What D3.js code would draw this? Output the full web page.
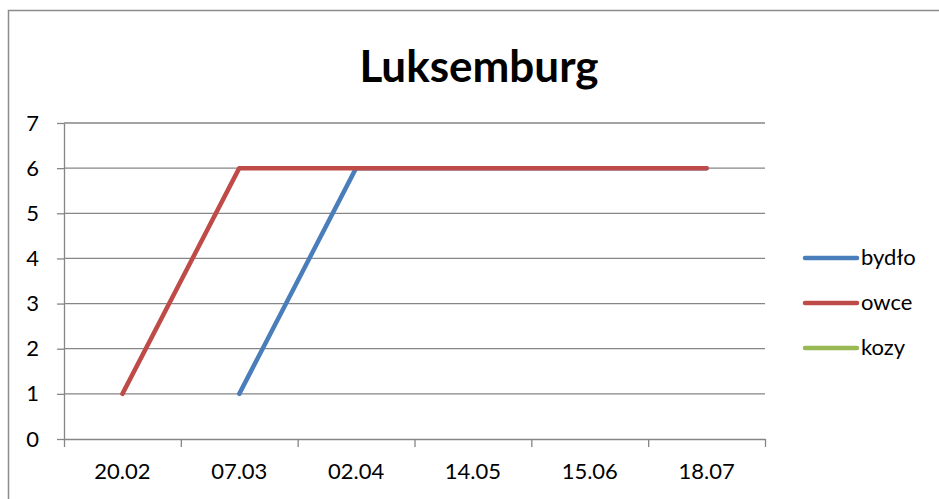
<!DOCTYPE html>
<html>
<head>
<meta charset="utf-8">
<script src="https://cdn.jsdelivr.net/npm/d3@7/dist/d3.min.js"></script>
<style>
  body { margin: 0; background: #fff; }
  svg { font-family: Lato, "Open Sans", sans-serif; }
</style>
</head>
<body>
<svg id="chart" width="939" height="499"></svg>
<script>
// data
var categories = ["20.02", "07.03", "02.04", "14.05", "15.06", "18.07"];
var bydlo = [null, 1, 6, 6, 6, 6];
var owce = [1, 6, 6, 6, 6, 6];
var kozy = [null, null, null, null, null, null];
var yTicks = [0, 1, 2, 3, 4, 5, 6, 7];

var series = [
  { name: "bydło", values: bydlo, color: "#4A7EBB" },
  { name: "owce", values: owce, color: "#BE4B48" },
  { name: "kozy", values: kozy, color: "#98B954" }
];

var svg = d3.select("#chart");
var margin = { left: 64, right: 765, top: 123, bottom: 439 };

// outer chart frame
svg.append("rect")
  .attr("x", 8.5).attr("y", 10.5)
  .attr("width", 940).attr("height", 500)
  .attr("fill", "none")
  .attr("stroke", "#8c8c8c")
  .attr("stroke-width", 1.5);

svg.append("text")
  .attr("x", 479).attr("y", 82)
  .attr("text-anchor", "middle")
  .attr("font-size", 44)
  .attr("font-weight", "bold")
  .text("Luksemburg");

var x = d3.scaleBand().domain(categories).range([margin.left, margin.right]);
var xEdge = d3.scaleLinear().domain([0, categories.length]).range([margin.left, margin.right]);
var y = d3.scaleLinear().domain([0, 7]).range([margin.bottom, margin.top]);

// gridlines
svg.append("g")
  .selectAll("line")
  .data(yTicks.slice(1))
  .enter().append("line")
  .attr("x1", margin.left).attr("x2", margin.right)
  .attr("y1", function(d) { return y(d); })
  .attr("y2", function(d) { return y(d); })
  .attr("stroke", "#868686")
  .attr("stroke-width", 1.3);

// y axis
var yAxis = svg.append("g")
  .attr("transform", "translate(" + margin.left + ",0)")
  .call(d3.axisLeft(y).tickValues(yTicks).tickFormat(d3.format("d")).tickSize(7).tickPadding(18).tickSizeOuter(0));
yAxis.selectAll("text").attr("font-size", 22).attr("fill", "#000").attr("font-family", "Lato, sans-serif");

// x axis: labels at band centers, ticks at band edges
var xAxis = svg.append("g")
  .attr("transform", "translate(0," + margin.bottom + ")")
  .call(d3.axisBottom(x).tickSize(0).tickPadding(24));
xAxis.selectAll("text").attr("font-size", 22).attr("fill", "#000").attr("font-family", "Lato, sans-serif");

var xTicks = svg.append("g")
  .attr("transform", "translate(0," + margin.bottom + ")")
  .call(d3.axisBottom(xEdge).ticks(categories.length).tickFormat("").tickSize(8).tickSizeOuter(0));
xTicks.select(".domain").remove();

svg.selectAll(".domain, .tick line")
  .attr("stroke", "#868686")
  .attr("stroke-width", 1.3);

// lines
var line = d3.line()
  .defined(function(d) { return d != null; })
  .x(function(d, i) { return x(categories[i]) + x.bandwidth() / 2; })
  .y(function(d) { return y(d); });

series.forEach(function(s) {
  svg.append("path")
    .datum(s.values)
    .attr("d", line)
    .attr("fill", "none")
    .attr("stroke", s.color)
    .attr("stroke-width", 4.5)
    .attr("stroke-linecap", "round")
    .attr("stroke-linejoin", "round");
});

// legend
var legend = svg.append("g")
  .selectAll("g")
  .data(series)
  .enter().append("g")
  .attr("transform", function(d, i) { return "translate(0," + (258 + i * 45) + ")"; });

legend.append("line")
  .attr("x1", 805).attr("x2", 857)
  .attr("stroke", function(d) { return d.color; })
  .attr("stroke-width", 4.5)
  .attr("stroke-linecap", "round");

legend.append("text")
  .attr("x", 861).attr("y", 7)
  .attr("font-size", 22)
  .text(function(d) { return d.name; });
</script>
</body>
</html>
